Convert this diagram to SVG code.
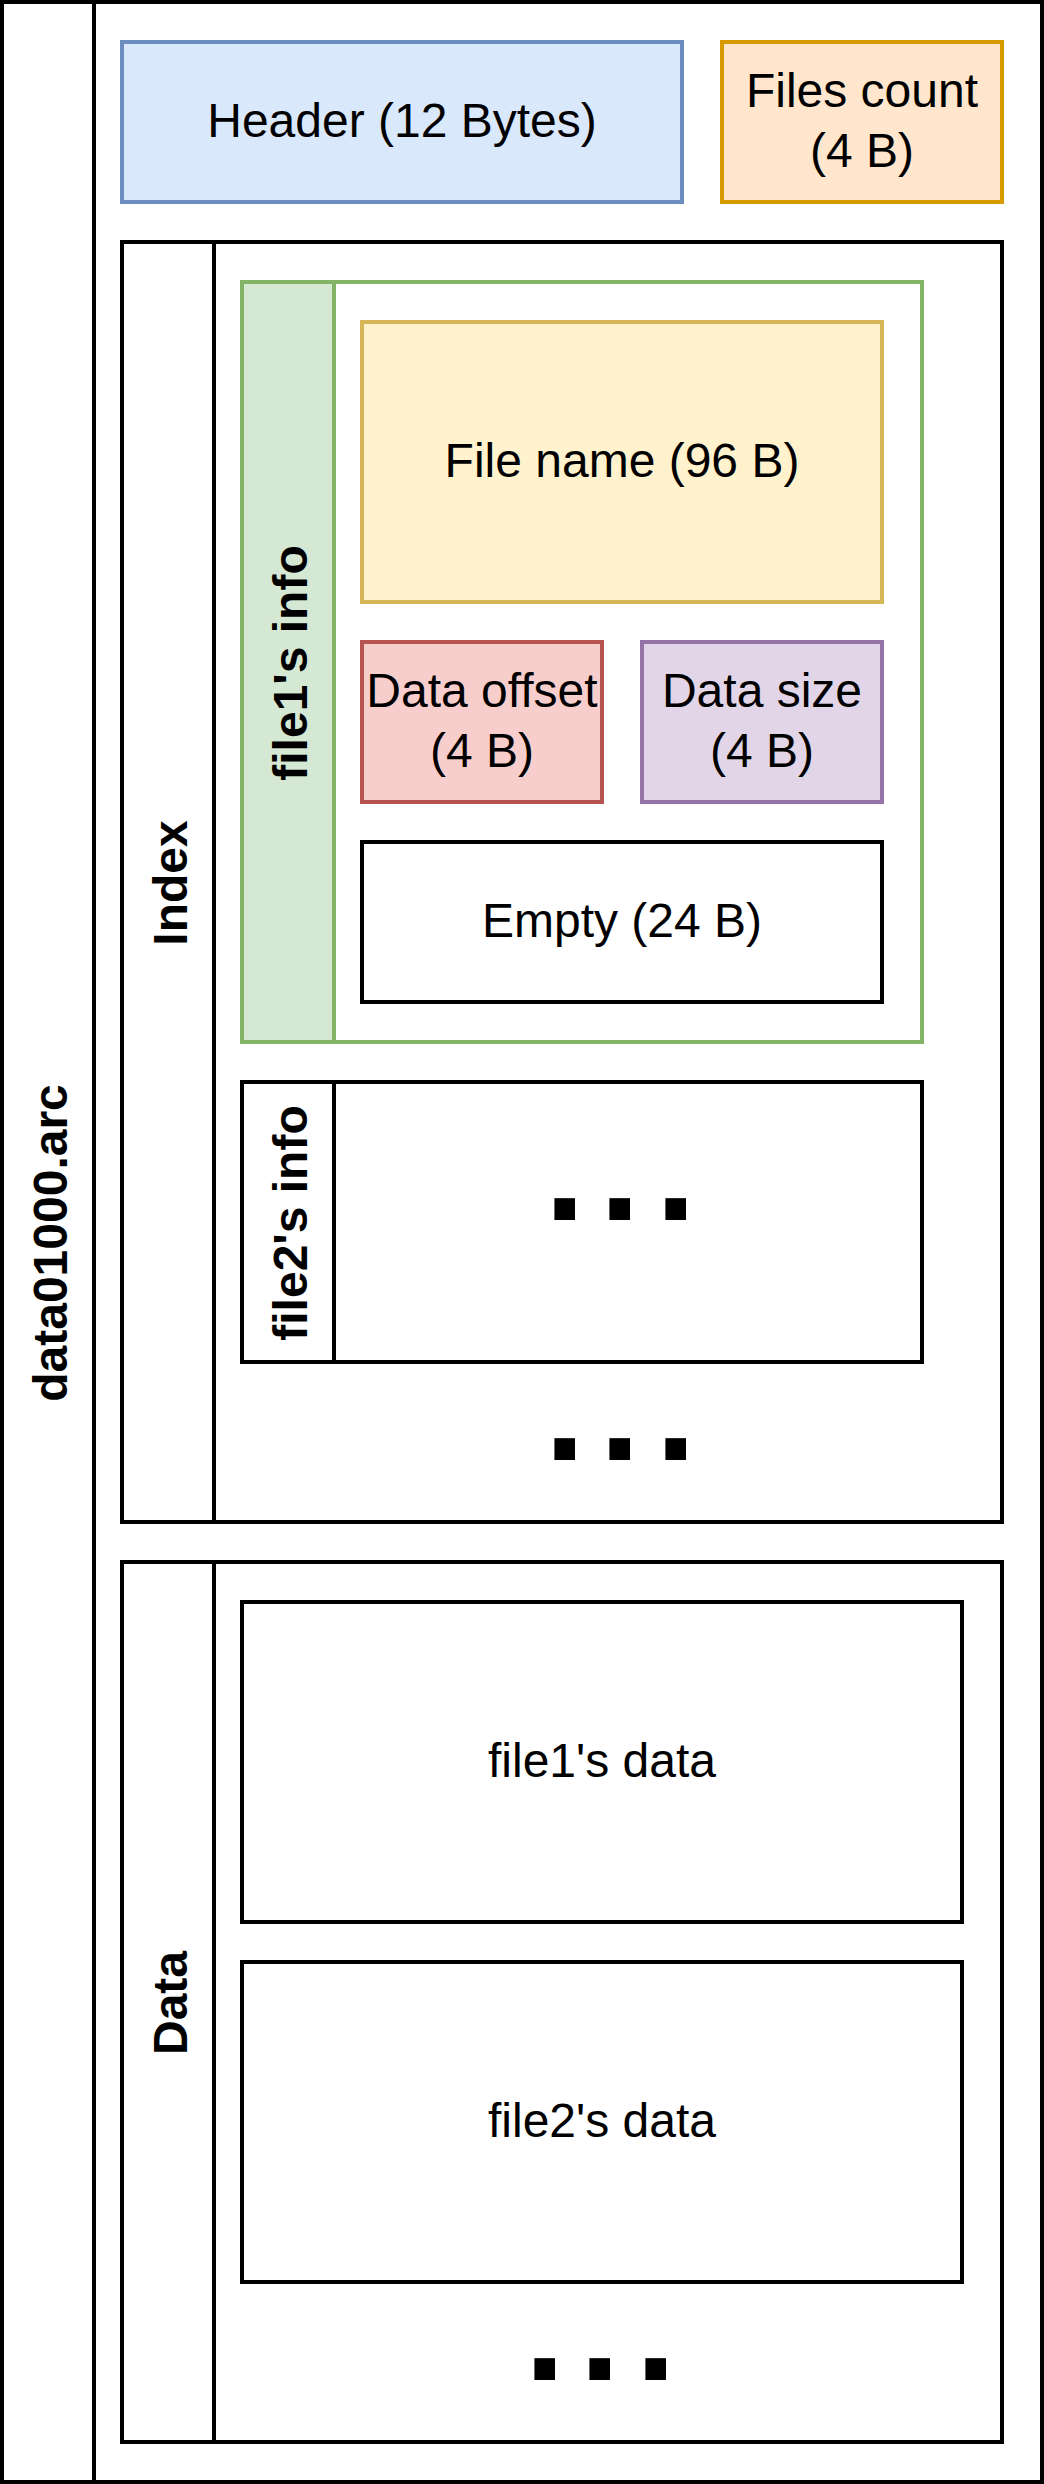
<svg xmlns="http://www.w3.org/2000/svg" width="1044" height="2484" viewBox="0 0 1044 2484">
<style>
  .t { font-family: "Liberation Sans", Arial, Helvetica, sans-serif; font-size: 48px; text-anchor: middle; fill: #000000; }
  .b { font-weight: bold; }
  .dots { font-family: "Liberation Sans", Arial, Helvetica, sans-serif; font-size: 146px; font-weight: bold; fill: #000000; }
  rect, line { stroke-width: 4; }
  .plain { fill: #ffffff; stroke: #000000; }
  .ln { stroke: #000000; fill: none; }
</style>
<rect x="0" y="0" width="1044" height="2484" fill="#ffffff"/>

<g id="archive">
  <rect class="plain" x="2" y="2" width="1040" height="2480"/>
  <line class="ln" x1="94" y1="2" x2="94" y2="2482"/>
  <text class="t b" transform="translate(67,1243) rotate(-90)">data01000.arc</text>
</g>

<g id="header">
  <rect x="122" y="42" width="560" height="160" fill="#dae8fc" stroke="#6c8ebf"/>
  <text class="t" x="402" y="136.5">Header (12 Bytes)</text>
</g>

<g id="files-count">
  <rect x="722" y="42" width="280" height="160" fill="#ffe6cc" stroke="#d79b00"/>
  <text class="t" x="862" y="107">Files count</text>
  <text class="t" x="862" y="166.5">(4 B)</text>
</g>

<g id="index">
  <rect class="plain" x="122" y="242" width="880" height="1280"/>
  <line class="ln" x1="214" y1="242" x2="214" y2="1522"/>
  <text class="t b" transform="translate(187,883) rotate(-90)">Index</text>
  <text class="dots" x="544.6 599.6 655.6" y="1460">...</text>
</g>

<g id="file1-info">
  <rect x="242" y="282" width="680" height="760" fill="#ffffff" stroke="#82b366"/>
  <rect x="242" y="282" width="92" height="760" fill="#d5e8d4" stroke="#82b366"/>
  <text class="t b" transform="translate(307,663) rotate(-90)">file1's info</text>
</g>

<g id="file-name">
  <rect x="362" y="322" width="520" height="280" fill="#fff2cc" stroke="#d6b656"/>
  <text class="t" x="622" y="476.5">File name (96 B)</text>
</g>

<g id="data-offset">
  <rect x="362" y="642" width="240" height="160" fill="#f8cecc" stroke="#b85450"/>
  <text class="t" x="482" y="707">Data offset</text>
  <text class="t" x="482" y="766.5">(4 B)</text>
</g>

<g id="data-size">
  <rect x="642" y="642" width="240" height="160" fill="#e1d5e7" stroke="#9673a6"/>
  <text class="t" x="762" y="707">Data size</text>
  <text class="t" x="762" y="766.5">(4 B)</text>
</g>

<g id="empty">
  <rect class="plain" x="362" y="842" width="520" height="160"/>
  <text class="t" x="622" y="936.5">Empty (24 B)</text>
</g>

<g id="file2-info">
  <rect class="plain" x="242" y="1082" width="680" height="280"/>
  <line class="ln" x1="334" y1="1082" x2="334" y2="1362"/>
  <text class="t b" transform="translate(307,1223) rotate(-90)">file2's info</text>
  <text class="dots" x="544.6 599.6 655.6" y="1220">...</text>
</g>

<g id="data">
  <rect class="plain" x="122" y="1562" width="880" height="880"/>
  <line class="ln" x1="214" y1="1562" x2="214" y2="2442"/>
  <text class="t b" transform="translate(187,2003) rotate(-90)">Data</text>
  <text class="dots" x="524.6 579.6 635.6" y="2380">...</text>
</g>

<g id="file1-data">
  <rect class="plain" x="242" y="1602" width="720" height="320"/>
  <text class="t" x="602" y="1776.5">file1's data</text>
</g>

<g id="file2-data">
  <rect class="plain" x="242" y="1962" width="720" height="320"/>
  <text class="t" x="602" y="2136.5">file2's data</text>
</g>

<g id="connectors"></g>
</svg>
